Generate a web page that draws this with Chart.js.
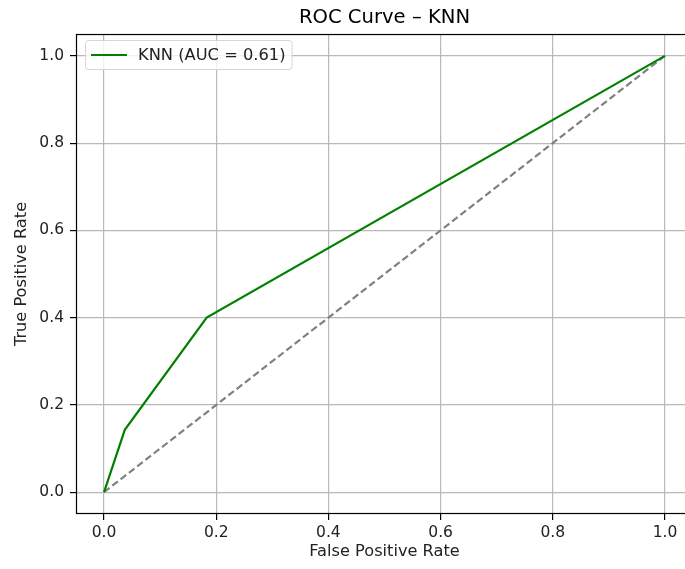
<!DOCTYPE html>
<html>
<head>
<meta charset="utf-8">
<script src="https://cdn.jsdelivr.net/npm/chart.js@4"></script>
<style>
  body { margin: 0; background: #fff; overflow: hidden; width: 685px; height: 569px; }
</style>
</head>
<body>
<canvas id="myChart" width="694" height="569"></canvas>
<script>
// ROC points
const fpr = [0.0, 0.037, 0.183, 1.0];
const tpr = [0.0, 0.143, 0.40, 1.0];
const chanceX = [0.0, 1.0];
const chanceY = [0.0, 1.0];
const tickValues = [0.0, 0.2, 0.4, 0.6, 0.8, 1.0];
const rocLabel = 'KNN (AUC = 0.61)';

const font = 'DejaVu Sans';

function toPoints(xs, ys) {
  return xs.map((x, i) => ({ x: x, y: ys[i] }));
}

// frame around the plot plus matplotlib style legend box
const framePlugin = {
  id: 'frame',
  afterDatasetsDraw(chart) {
    const a = chart.chartArea;
    const ctx = chart.ctx;
    ctx.save();
    ctx.strokeStyle = '#000';
    ctx.lineWidth = 1.2;
    ctx.strokeRect(a.left + 0.5, a.top + 0.5, a.right - a.left - 1, a.bottom - a.top - 1);

    // legend
    const ds = chart.data.datasets[0];
    ctx.font = '16.3px "' + font + '"';
    const tw = ctx.measureText(ds.label).width;
    const bx = a.left + 9, by = a.top + 6;
    const bw = 53 + tw + 6, bh = 29;
    ctx.fillStyle = 'rgba(255,255,255,0.8)';
    ctx.strokeStyle = '#d6d6d6';
    ctx.lineWidth = 1;
    ctx.beginPath();
    ctx.roundRect(bx + 0.5, by + 0.5, bw, bh, 3);
    ctx.fill();
    ctx.stroke();
    ctx.strokeStyle = ds.borderColor;
    ctx.lineWidth = ds.borderWidth;
    ctx.beginPath();
    ctx.moveTo(bx + 6, by + 15);
    ctx.lineTo(bx + 42, by + 15);
    ctx.stroke();
    ctx.fillStyle = '#222';
    ctx.textBaseline = 'middle';
    ctx.fillText(ds.label, bx + 53, by + 15.5);
    ctx.restore();
  }
};

function axis(title, titlePad, tickPad, fixSize) {
  return {
    type: 'linear',
    min: -0.05,
    max: 1.05,
    afterBuildTicks(scale) {
      scale.ticks = tickValues.map(v => ({ value: v }));
    },
    afterFit(scale) {
      fixSize(scale);
    },
    ticks: {
      color: '#222',
      padding: tickPad,
      font: { family: font, size: 15.5 },
      callback: v => v.toFixed(1)
    },
    grid: {
      color: '#b8b8b8',
      lineWidth: 1.2,
      drawTicks: true,
      tickLength: 6,
      tickColor: '#000'
    },
    border: { display: false },
    title: {
      display: true,
      text: title,
      color: '#222',
      font: { family: font, size: 16.2 },
      padding: titlePad
    }
  };
}

const ctx = document.getElementById('myChart');

const myChart = new Chart(ctx, {
  type: 'scatter',
  data: {
    datasets: [{
      label: rocLabel,
      data: toPoints(fpr, tpr),
      showLine: true,
      borderColor: '#008000',
      backgroundColor: '#008000',
      borderWidth: 2.2,
      pointRadius: 0,
      tension: 0
    }, {
      label: 'chance',
      data: toPoints(chanceX, chanceY),
      showLine: true,
      borderColor: '#808080',
      backgroundColor: '#808080',
      borderWidth: 2.2,
      borderDash: [7, 3.5],
      pointRadius: 0,
      tension: 0
    }]
  },
  options: {
    responsive: false,
    animation: false,
    layout: { padding: { left: 0, right: 1, top: 0, bottom: 0 } },
    plugins: {
      legend: { display: false },
      tooltip: { enabled: false },
      title: {
        display: true,
        text: 'ROC Curve – KNN',
        fullSize: false,
        color: '#000',
        font: { family: font, size: 19.6, weight: 'normal' },
        padding: { top: 6, bottom: 4.5 }
      }
    },
    scales: {
      x: axis('False Positive Rate', { top: 2, bottom: 7 }, 4, s => { s.height = 55; }),
      y: axis('True Positive Rate', { top: 12, bottom: 2 }, 6, s => { s.width = 76; })
    }
  },
  plugins: [framePlugin]
});
</script>
</body>
</html>
